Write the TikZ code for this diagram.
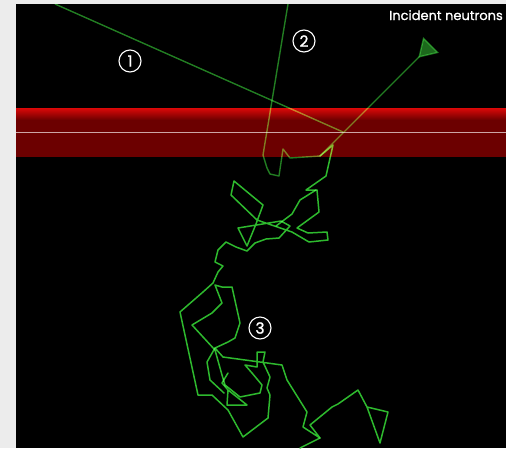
\documentclass[tikz,border=0pt]{standalone}
\usepackage{fontspec}
\newfontfamily\captionfont{Poppins}[FakeBold=0.9]
\newfontfamily\digitfont{Poppins}[FakeBold=1.2]
\usetikzlibrary{arrows.meta}

\definecolor{panel}{HTML}{ECECEC}
\definecolor{bandred}{RGB}{108,0,0}
\definecolor{bandtop}{RGB}{220,8,8}
\definecolor{interface}{RGB}{205,165,165}
\definecolor{trackdark}{RGB}{34,125,34}
\definecolor{trackbright}{RGB}{46,185,46}
\definecolor{headgreen}{RGB}{28,105,28}

\tikzset{
  ray/.style={draw=trackdark, line width=1.4pt, line join=round},
  walk/.style={draw=trackbright, line width=1.5pt, line join=round, line cap=round},
  marker/.style={circle, draw=white, line width=1.1pt, text=white, minimum size=22pt,
    inner sep=0pt, font=\digitfont\fontsize{15.5}{16}\selectfont},
  caption/.style={text=white, font=\captionfont\fontsize{13}{14}\selectfont, inner sep=0pt}
}

\begin{document}
\begin{tikzpicture}[x=1pt,y=-1pt]
  % frame and dark field
  \fill[panel] (0,0) rectangle (506,448);
  \fill[black] (16,4) rectangle (506,448);
  \useasboundingbox (0,0) rectangle (506,448);

  % layer band with its bright upper edge and the interface line
  \fill[bandred] (16,108) rectangle (506,157);
  \shade[top color=bandtop, bottom color=bandred] (16,108) rectangle (506,120);
  \draw[interface, line width=1pt] (16,132) -- (506,132);

  % key points of the tracks
  \coordinate (src) at (431,45);
  \coordinate (hit) at (343,132);
  \coordinate (entry) at (320,156);
  \coordinate (exitA) at (55,4);
  \coordinate (exitB) at (288,4);

  \begin{scope}[blend mode=screen]
    % incident beam
    \draw[ray, -{Triangle[reversed, length=18pt, width=22pt, fill=headgreen, color=headgreen]}] (entry) -- (src);
    % track 1: straight reflection
    \draw[ray] (hit) -- (exitA);
    % track 2: a few collisions, then back out
    \draw[ray] (entry) -- (290,158) -- (283,149) -- (279,176) -- (270,174)
      -- (267,168) -- (263,155) -- (exitB);
    % track 3: long diffusion walk
    \draw[walk] (entry) -- (333,145) -- (326,176) -- (306,190) -- (317,190)
      -- (319,212) -- (297,228) -- (308,233) -- (327,232) -- (328,240)
      -- (309,242) -- (292,232) -- (257,220) -- (231,195) -- (234,181)
      -- (263,205) -- (256,224) -- (247,246) -- (238,228) -- (281,221)
      -- (290,226) -- (279,238) -- (266,239) -- (255,243) -- (247,251)
      -- (236,247) -- (226,242) -- (218,250) -- (215,262) -- (223,266)
      -- (218,272) -- (213,283) -- (203,292) -- (180,312) -- (198,395)
      -- (212,395) -- (228,410) -- (243,437) -- (268,418) -- (270,395)
      -- (267,388) -- (270,377) -- (263,362) -- (265,352) -- (257,352)
      -- (257,367) -- (245,365) -- (252,373) -- (262,385) -- (260,393)
      -- (240,397) -- (225,385) -- (222,375) -- (215,350) -- (192,325)
      -- (212,313) -- (222,303) -- (215,285) -- (222,287) -- (232,287)
      -- (240,323) -- (235,338) -- (228,342) -- (215,348) -- (223,357)
      -- (260,362) -- (282,365) -- (287,380) -- (307,412) -- (303,427)
      -- (320,438) -- (310,425) -- (332,407) -- (338,404) -- (358,390)
      -- (367,407) -- (388,412) -- (380,443) -- (367,407);
    \draw[walk] (320,438) -- (300,448);
    \draw[walk] (228,373) -- (222,383) -- (228,390) -- (227,405) -- (247,405) -- (228,390);
    \draw[walk] (215,348) -- (207,362) -- (210,380) -- (224,393);
    \draw[walk] (316,190) -- (300,200) -- (292,214) -- (276,226);
  \end{scope}

  % labels
  \node[marker] (m1) at (130,61) {1};
  \node[marker] (m2) at (304,41) {2};
  \node[marker] (m3) at (260,328) {3};
  \node[caption, anchor=base east] (cap) at (503,20) {Incident neutrons};
\end{tikzpicture}
\end{document}
